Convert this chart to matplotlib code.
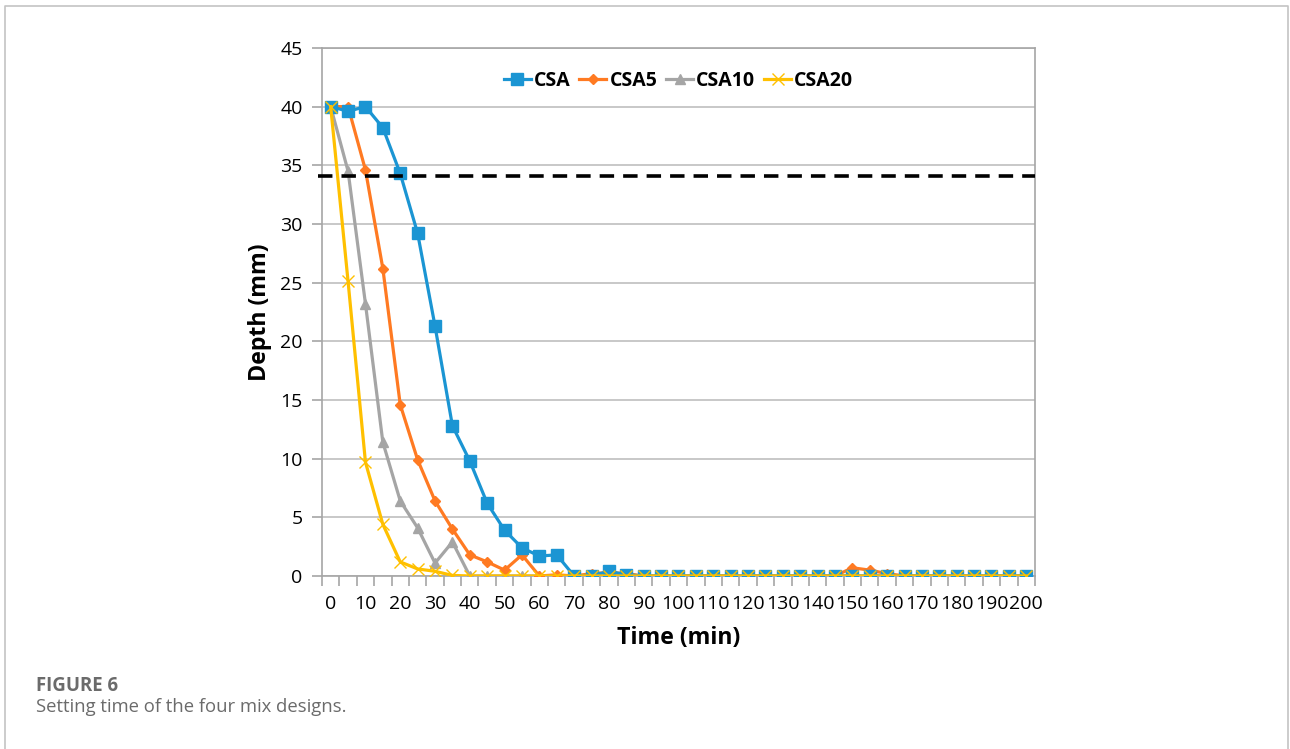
import matplotlib.pyplot as plt
from matplotlib.lines import Line2D
import numpy as np

# data (depth in mm at every 5 min)
times = list(range(0, 205, 5))
csa = [40, 39.6, 40, 38.2, 34.3, 29.2, 21.3, 12.8, 9.8, 6.2, 3.9, 2.4, 1.7, 1.8,
       0, 0, 0.4, 0.1] + [0] * 23
csa5 = [40, 40, 34.6, 26.2, 14.6, 9.9, 6.4, 4.0, 1.8, 1.2, 0.5, 1.8, 0, 0.1,
        0, 0.2, 0.3, 0.2] + [0] * 12 + [0.7, 0.5, 0.2] + [0] * 8
csa10 = [40, 34.5, 23.2, 11.4, 6.4, 4.1, 1.1, 2.9] + [0] * 33
csa20 = [40, 25.1, 9.7, 4.4, 1.2, 0.6, 0.4, 0.05] + [0] * 33
limit_depth = 34.1

names = ['CSA', 'CSA5', 'CSA10', 'CSA20']
colors = ['#1B95D3', '#FF7A22', '#A5A5A5', '#FFC000']

plt.rcParams['font.family'] = ['Open Sans', 'DejaVu Sans']

fig = plt.figure(figsize=(12.9, 7.49), dpi=100)
ax = fig.add_axes([0.2496, 0.231, 0.5527, 0.705])

idx = np.arange(len(times))
ax.plot(idx, csa, color=colors[0], lw=2.3, marker='s', ms=8, label=names[0], zorder=5)
ax.plot(idx, csa5, color=colors[1], lw=2.3, marker='D', ms=5.5, label=names[1], zorder=4)
ax.plot(idx, csa10, color=colors[2], lw=2.3, marker='^', ms=7, label=names[2], zorder=3)
ax.plot(idx, csa20, color=colors[3], lw=2.3, marker='x', ms=8, mew=1,
        label=names[3], zorder=6)

ax.axhline(limit_depth, xmin=-0.005, xmax=1.0, color='black', lw=2.6,
           ls=(0, (4, 2.5)), clip_on=False, zorder=7)

ax.set_xlim(-0.5, len(times) - 0.5)
ax.set_ylim(0, 45)
ax.set_yticks(np.arange(0, 50, 5))
ax.set_xticks(idx[::2])
ax.set_xticklabels([str(t) for t in times[::2]])
ax.set_xticks(np.arange(-0.5, len(times), 1), minor=True)
ax.tick_params(axis='x', which='major', length=0, pad=14, labelsize=14)
ax.tick_params(axis='x', which='minor', length=7, color='#A6A6A6', width=1.2)
ax.tick_params(axis='y', length=7, color='#A6A6A6', width=1.2, labelsize=14, pad=7)
ax.grid(axis='y', color='#BFBFBF', lw=1.2)
ax.set_axisbelow(True)
for s in ax.spines.values():
    s.set_color('#A6A6A6')
    s.set_linewidth(1.2)

ax.set_xlabel('Time (min)', fontsize=16.7, fontweight='bold', labelpad=9)
ax.set_ylabel('Depth (mm)', fontsize=16.7, fontweight='bold', labelpad=6)

ax.legend(loc='upper center', bbox_to_anchor=(0.5, 0.99), ncol=4, frameon=False,
          prop={'weight': 'bold', 'size': 14}, handlelength=1.4, handletextpad=0.15,
          columnspacing=0.45)

# page card border and caption
fig.add_artist(Line2D([0.0035, 0.0035, 0.9985, 0.9985], [0, 0.9925, 0.9925, 0],
                      transform=fig.transFigure, color='#C4C4C4', lw=1.2))
fig.text(0.028, 0.077, 'FIGURE 6', fontsize=13.4, fontweight='bold', color='#6B6B6B')
fig.text(0.028, 0.049, 'Setting time of the four mix designs.', fontsize=13.3,
         color='#6B6B6B')

fig.savefig('out.png', dpi=100)
